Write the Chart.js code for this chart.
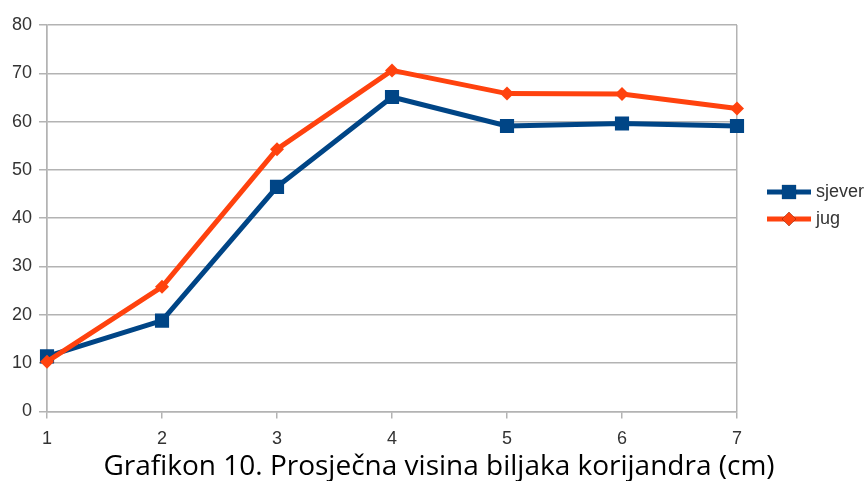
<!DOCTYPE html>
<html>
<head>
<meta charset="utf-8">
<script src="https://cdn.jsdelivr.net/npm/chart.js@4/dist/chart.umd.min.js"></script>
<style>
  html, body { margin: 0; padding: 0; background: #fff; }
  #wrap { width: 867px; height: 481px; position: relative; }
</style>
</head>
<body>
<div id="wrap"><canvas id="heightChart"></canvas></div>
<script>
// measurement points (1..7) and average plant height per side
const weeks = ['1', '2', '3', '4', '5', '6', '7'];
const sjever = [11.4, 18.8, 46.5, 65.1, 59.1, 59.6, 59.1];
const jug = [10.3, 25.8, 54.3, 70.6, 65.8, 65.7, 62.7];
const seriesNames = ['sjever', 'jug'];
const captionText = 'Grafikon 10. Prosječna visina biljaka korijandra (cm)';

const BLUE = '#004586';
const ORANGE = '#ff420e';
const GRID = '#b3b3b3';
const TEXT = '#333333';

// legend on the right: short line with the marker in the middle, plus the caption under the chart
const sideLegend = {
    id: 'sideLegend',
    afterDraw(chart) {
        const ctx = chart.ctx;
        const x0 = 767, x1 = 811, tx = 816;
        const rows = [192, 219];
        chart.data.datasets.forEach((ds, i) => {
            const y = rows[i];
            ctx.save();
            ctx.strokeStyle = ds.borderColor;
            ctx.lineWidth = ds.borderWidth;
            ctx.beginPath();
            ctx.moveTo(x0, y);
            ctx.lineTo(x1, y);
            ctx.stroke();
            ctx.beginPath();
            Chart.helpers.drawPoint(ctx, {
                pointStyle: ds.pointStyle,
                radius: ds.pointRadius,
                borderWidth: 0
            }, (x0 + x1) / 2, y);
            ctx.fillStyle = ds.borderColor;
            ctx.fill();
            ctx.fillStyle = TEXT;
            ctx.font = '18px "Liberation Sans", Arial, sans-serif';
            ctx.textBaseline = 'middle';
            ctx.textAlign = 'left';
            ctx.fillText(ds.label, tx, y);
            ctx.restore();
        });

        ctx.save();
        ctx.fillStyle = '#000';
        ctx.font = '28px "Open Sans", sans-serif';
        ctx.textAlign = 'center';
        ctx.textBaseline = 'alphabetic';
        ctx.fillText(captionText, 439, 475);
        ctx.restore();
    }
};

const ctx = document.getElementById('heightChart').getContext('2d');
const heightChart = new Chart(ctx, {
    type: 'line',
    data: {
        labels: weeks,
        datasets: [{
            label: seriesNames[0],
            data: sjever,
            borderColor: BLUE,
            backgroundColor: BLUE,
            pointBackgroundColor: BLUE,
            pointBorderColor: BLUE,
            borderWidth: 5,
            pointStyle: 'rect',
            pointRadius: 10,
            pointBorderWidth: 0,
            tension: 0,
            order: 1
        }, {
            label: seriesNames[1],
            data: jug,
            borderColor: ORANGE,
            backgroundColor: ORANGE,
            pointBackgroundColor: ORANGE,
            pointBorderColor: ORANGE,
            borderWidth: 5,
            pointStyle: 'rectRot',
            pointRadius: 7,
            pointBorderWidth: 0,
            tension: 0,
            order: 0
        }]
    },
    options: {
        responsive: true,
        maintainAspectRatio: false,
        animation: false,
        layout: {
            padding: { left: 5, right: 130, top: 25, bottom: 21 }
        },
        plugins: {
            legend: { display: false },
            tooltip: { enabled: false }
        },
        scales: {
            x: {
                type: 'category',
                offset: false,
                grid: {
                    color: c => (c.index === 0 || c.index === weeks.length - 1) ? GRID : 'rgba(0,0,0,0)',
                    tickColor: GRID,
                    tickLength: 7,
                    lineWidth: 1.5
                },
                border: { display: true, color: GRID, width: 1.5 },
                ticks: {
                    color: TEXT,
                    font: { family: '"Liberation Sans", Arial, sans-serif', size: 18 },
                    padding: 10,
                    maxRotation: 0
                }
            },
            y: {
                min: 0,
                max: 80,
                grid: {
                    color: GRID,
                    tickColor: GRID,
                    tickLength: 8,
                    lineWidth: 1.5
                },
                border: { display: true, color: GRID, width: 1.5 },
                ticks: {
                    stepSize: 10,
                    color: TEXT,
                    font: { family: '"Liberation Sans", Arial, sans-serif', size: 18 },
                    padding: 7
                }
            }
        }
    },
    plugins: [sideLegend]
});
</script>
</body>
</html>
